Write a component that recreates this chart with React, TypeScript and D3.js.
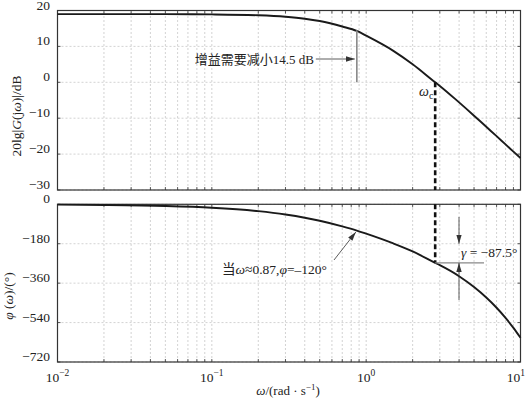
import * as d3 from "d3";

// frequency samples (rad/s)
const freqs = [0.01, 0.02, 0.05, 0.1, 0.2, 0.3, 0.4, 0.5, 0.7, 0.87, 1, 1.5, 2, 2.8, 3, 4, 5, 6, 7, 8, 9, 10];
// magnitude, dB
const magDb = [19.0, 19.0, 18.98, 18.91, 18.66, 18.25, 17.71, 17.06, 15.54, 14.3, 12.98, 8.76, 5.02, 0.0, -1.0, -5.6, -9.3, -12.4, -15.0, -17.3, -19.3, -21.1];
// phase, degrees
const phaseDeg = [-1.6, -3.2, -7.9, -15.8, -31.4, -46.6, -61.2, -75.2, -100.9, -120, -134.1, -178.8, -215.1, -267.5, -278, -328.3, -377.9, -425.7, -472.4, -518.6, -564.2, -609.6];

const magTicks = [20, 10, 0, -10, -20, -30];
const phaseTicks = [0, -180, -360, -540, -720];
const decades = [0.01, 0.1, 1, 10];
const decadeExps = ["−2", "−1", "0", "1"];

const wc = 2.8;
const gainCut = 14.5;
const wMark = 0.87;
const phiMark = -120;
const gamma = -87.5;

const W = 527;
const H = 399;
const left = 57.5;
const right = 520.5;
const font = "'Liberation Serif', 'Times New Roman', serif";
const cjkFont = "'Liberation Serif', 'Noto Sans CJK SC', serif";

const x = d3.scaleLog().domain([0.01, 10]).range([left, right]);
const yMag = d3.scaleLinear().domain([-30, 20]).range([190, 10.5]);
const yPh = d3.scaleLinear().domain([-720, 0]).range([362, 204.3]);

const gridX: number[] = [];
decades.slice(0, 3).forEach((d) => {
  for (let k = 1; k <= 9; k++) gridX.push(d * k);
});
gridX.push(10);

const fmt = (v: number) => (v < 0 ? "−" + Math.abs(v) : String(v));

const Panel = ({ y, ticks }: { y: d3.ScaleLinear<number, number>; ticks: number[] }) => {
  const [y0, y1] = y.range();
  return (
    <g>
      {gridX.map((f, i) => (
        <line key={"gx" + i} x1={x(f)} x2={x(f)} y1={y0} y2={y1} stroke="#c8c8c8" strokeWidth={0.8} strokeDasharray="2,2" />
      ))}
      {ticks.map((t) => (
        <line key={"gy" + t} x1={left} x2={right} y1={y(t)} y2={y(t)} stroke="#c8c8c8" strokeWidth={0.8} strokeDasharray="2,2" />
      ))}
      {gridX.map((f, i) => (
        <g key={"tx" + i}>
          <line x1={x(f)} x2={x(f)} y1={y0} y2={y0 - 3} stroke="#333" strokeWidth={0.8} />
          <line x1={x(f)} x2={x(f)} y1={y1} y2={y1 + 3} stroke="#333" strokeWidth={0.8} />
        </g>
      ))}
      {ticks.map((t) => (
        <g key={"ty" + t}>
          <line x1={left} x2={left + 3} y1={y(t)} y2={y(t)} stroke="#333" strokeWidth={0.8} />
          <line x1={right} x2={right - 3} y1={y(t)} y2={y(t)} stroke="#333" strokeWidth={0.8} />
          <text x={50} y={Math.max(y(t) - 4, 7)} textAnchor="end" dominantBaseline="middle" fontSize={13.5} fontFamily={font} fill="#222">
            {fmt(t)}
          </text>
        </g>
      ))}
      <rect x={left} y={y1} width={right - left} height={y0 - y1} fill="none" stroke="#333" strokeWidth={1.2} />
    </g>
  );
};

const App = () => {
  const magLine = d3
    .line<number>()
    .x((_, i) => x(freqs[i]))
    .y((d) => yMag(d))
    .curve(d3.curveMonotoneX);
  const phLine = d3
    .line<number>()
    .x((_, i) => x(freqs[i]))
    .y((d) => yPh(d))
    .curve(d3.curveMonotoneX);

  const xc = x(wc);
  const phiC = gamma - 180;
  const xm = x(wMark);

  return (
    <svg width={W} height={H} style={{ position: "absolute", left: 0, top: 0, background: "#fff" }}>
      <defs>
        <marker id="arr" viewBox="0 0 10 6" refX={10} refY={3} markerWidth={9} markerHeight={5.5} orient="auto" markerUnits="userSpaceOnUse">
          <path d="M0,0 L10,3 L0,6 Z" fill="#333" />
        </marker>
      </defs>
      <Panel y={yMag} ticks={magTicks} />
      <Panel y={yPh} ticks={phaseTicks} />

      <path d={magLine(magDb)!} fill="none" stroke="#1a1a1a" strokeWidth={1.9} />
      <path d={phLine(phaseDeg)!} fill="none" stroke="#1a1a1a" strokeWidth={1.9} />

      {/* gain reduction marker */}
      <line x1={xm} x2={xm} y1={yMag(gainCut)} y2={yMag(0)} stroke="#888" strokeWidth={1.6} />
      <line x1={xm - 41} x2={xm - 2} y1={59} y2={59} stroke="#333" strokeWidth={0.8} markerEnd="url(#arr)" />
      <text x={xm - 43} y={63.5} textAnchor="end" fontSize={13} fontFamily={cjkFont} fill="#222">
        增益需要减小14.5 dB
      </text>

      {/* crossover */}
      <line x1={xc} x2={xc} y1={yMag(0)} y2={190} stroke="#111" strokeWidth={2.6} strokeDasharray="5,3" />
      <line x1={xc} x2={xc} y1={204.3} y2={yPh(phiC)} stroke="#111" strokeWidth={2.6} strokeDasharray="5,3" />
      <text x={419} y={96} fontSize={14} fontFamily={font} fill="#222">
        <tspan fontStyle="italic">ω</tspan>
        <tspan fontSize={10} dy={3}>c</tspan>
      </text>

      {/* phase point marker */}
      <line x1={334} x2={xm - 1} y1={260} y2={yPh(phiMark) + 1.5} stroke="#333" strokeWidth={0.8} markerEnd="url(#arr)" />
      <text x={222} y={274} fontSize={13.5} fontFamily={cjkFont} fill="#222">
        当<tspan fontStyle="italic">ω</tspan>≈0.87,<tspan fontStyle="italic">φ</tspan>=–120°
      </text>

      {/* phase margin */}
      <line x1={xc} x2={484} y1={yPh(phiC)} y2={yPh(phiC)} stroke="#888" strokeWidth={1.1} />
      <line x1={459} x2={459} y1={217} y2={yPh(-180)} stroke="#333" strokeWidth={0.8} markerEnd="url(#arr)" />
      <line x1={459} x2={459} y1={300} y2={yPh(phiC)} stroke="#333" strokeWidth={0.8} markerEnd="url(#arr)" />
      <text x={461} y={256.5} fontSize={13.5} fontFamily={font} fill="#222">
        <tspan fontStyle="italic">γ</tspan> = −87.5°
      </text>

      {/* x tick labels */}
      {decades.map((d, i) => {
        const last = i === decades.length - 1;
        return (
          <text
            key={"xl" + i}
            x={last ? 525 : x(d)}
            y={382}
            textAnchor={last ? "end" : "middle"}
            fontSize={13.5}
            fontFamily={font}
            fill="#222"
          >
            10<tspan fontSize={9.5} dy={-6}>{decadeExps[i]}</tspan>
          </text>
        );
      })}

      {/* axis titles */}
      <text x={288} y={395} textAnchor="middle" fontSize={13} fontFamily={font} fill="#222">
        <tspan fontStyle="italic">ω</tspan>/(rad · s<tspan fontSize={9} dy={-5}>−1</tspan>
        <tspan dy={5}>)</tspan>
      </text>
      <text transform="translate(21,116) rotate(-90)" textAnchor="middle" fontSize={13.5} fontFamily={font} fill="#222">
        20lg|<tspan fontStyle="italic">G</tspan>(j<tspan fontStyle="italic">ω</tspan>)|/dB
      </text>
      <text transform="translate(13,296) rotate(-90)" textAnchor="middle" fontSize={13.5} fontFamily={font} fill="#222">
        <tspan fontStyle="italic">φ</tspan> (<tspan fontStyle="italic">ω</tspan>)/(°)
      </text>
    </svg>
  );
};

export default App;
